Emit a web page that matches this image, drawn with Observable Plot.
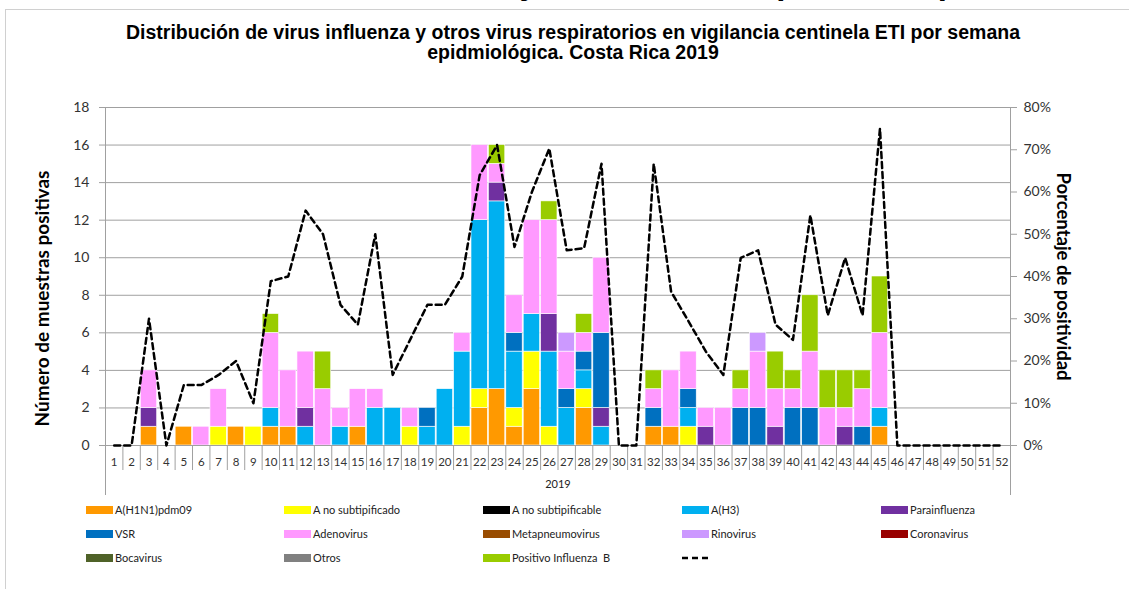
<!DOCTYPE html>
<html><head><meta charset="utf-8">
<script src="https://cdn.jsdelivr.net/npm/d3@7"></script>
<script src="https://cdn.jsdelivr.net/npm/@observablehq/plot@0.6"></script>
<style>
body{margin:0;background:#fff;width:1129px;height:589px;overflow:hidden;position:relative;font-family:Lato,"Open Sans",sans-serif}
#head{position:absolute;left:0;top:0;width:1129px;height:9px;overflow:hidden}
#head div{position:absolute;top:-36px;left:30px;font:bold 33px/38px "Liberation Sans",Arial,sans-serif;white-space:nowrap;color:#000}
#frame{position:absolute;left:5px;top:9px;width:1130px;height:590px;border:1px solid #d0d0d0;box-sizing:border-box;pointer-events:none}
#title{position:absolute;top:22px;left:0;width:1146px;text-align:center;font:bold 19.5px/20px "Liberation Sans",Arial,sans-serif;color:#000}
#chart{position:absolute;top:90px;left:0}
#legend{position:absolute;top:500px;left:0;width:1129px;height:89px}
.item{position:absolute;height:16px;font:11px/16px Lato,"Open Sans",sans-serif;color:#222;white-space:pre}
.sw{position:absolute;left:0;top:4px;width:27px;height:8px}
.lb{position:absolute;left:29px;top:0}
</style></head>
<body>
<div id="head"><div>Distribución de virus influenza y otros virus respiratorios por semana epidemiológica</div></div>
<div id="frame"></div>
<div id="title">Distribución de virus influenza y otros virus respiratorios en vigilancia centinela ETI por semana<br>epidmiológica. Costa Rica 2019</div>
<div id="chart"></div>
<div id="legend"></div>
<script>
const weeks = d3.range(1, 53);

const seriesNames = ["A(H1N1)pdm09","A no subtipificado","A no subtipificable","A(H3)","Parainfluenza","VSR","Adenovirus","Metapneumovirus","Rinovirus","Coronavirus","Bocavirus","Otros","Positivo Influenza  B"];
const seriesColors = ["#FF9900","#FFFF00","#000000","#00B0F0","#7030A0","#0070C0","#FF99FF","#994C00","#CC99FF","#990000","#4F6228","#808080","#99CC00"];

//                     weeks 1..52
const h1n1          = [0,0,1,0,1,0,0,1,0,1, 1,0,0,0,1,0,0,0,0,0, 0,2,3,1,3,0,0,2,0,0, 0,1,1,0,0,0,0,0,0,0, 0,0,0,0,1,0,0,0,0,0, 0,0];
const noSubtip      = [0,0,0,0,0,0,1,0,1,0, 0,0,0,0,0,0,0,1,0,0, 1,1,0,1,2,1,0,1,0,0, 0,0,0,1,0,0,0,0,0,0, 0,0,0,0,0,0,0,0,0,0, 0,0];
const noSubtipable  = [0,0,0,0,0,0,0,0,0,0, 0,0,0,0,0,0,0,0,0,0, 0,0,0,0,0,0,0,0,0,0, 0,0,0,0,0,0,0,0,0,0, 0,0,0,0,0,0,0,0,0,0, 0,0];
const h3            = [0,0,0,0,0,0,0,0,0,1, 0,1,0,1,0,2,2,0,1,3, 4,9,10,3,2,4,2,1,1,0, 0,0,0,1,0,0,0,0,0,0, 0,0,0,0,1,0,0,0,0,0, 0,0];
const parainfluenza = [0,0,1,0,0,0,0,0,0,0, 0,1,0,0,0,0,0,0,0,0, 0,0,1,0,0,2,0,0,1,0, 0,0,0,0,1,0,0,0,1,0, 0,0,1,0,0,0,0,0,0,0, 0,0];
const vsr           = [0,0,0,0,0,0,0,0,0,0, 0,0,0,0,0,0,0,0,1,0, 0,0,0,1,0,0,1,1,4,0, 0,1,0,1,0,0,2,2,0,2, 2,0,0,1,0,0,0,0,0,0, 0,0];
const adenovirus    = [0,0,2,0,0,1,2,0,0,4, 3,3,3,1,2,1,0,1,0,0, 1,4,1,2,5,5,2,1,4,0, 0,1,3,2,1,2,1,3,2,1, 3,2,1,2,4,0,0,0,0,0, 0,0];
const metapneumo    = [0,0,0,0,0,0,0,0,0,0, 0,0,0,0,0,0,0,0,0,0, 0,0,0,0,0,0,0,0,0,0, 0,0,0,0,0,0,0,0,0,0, 0,0,0,0,0,0,0,0,0,0, 0,0];
const rinovirus     = [0,0,0,0,0,0,0,0,0,0, 0,0,0,0,0,0,0,0,0,0, 0,0,0,0,0,0,1,0,0,0, 0,0,0,0,0,0,0,1,0,0, 0,0,0,0,0,0,0,0,0,0, 0,0];
const coronavirus   = [0,0,0,0,0,0,0,0,0,0, 0,0,0,0,0,0,0,0,0,0, 0,0,0,0,0,0,0,0,0,0, 0,0,0,0,0,0,0,0,0,0, 0,0,0,0,0,0,0,0,0,0, 0,0];
const bocavirus     = [0,0,0,0,0,0,0,0,0,0, 0,0,0,0,0,0,0,0,0,0, 0,0,0,0,0,0,0,0,0,0, 0,0,0,0,0,0,0,0,0,0, 0,0,0,0,0,0,0,0,0,0, 0,0];
const otros         = [0,0,0,0,0,0,0,0,0,0, 0,0,0,0,0,0,0,0,0,0, 0,0,0,0,0,0,0,0,0,0, 0,0,0,0,0,0,0,0,0,0, 0,0,0,0,0,0,0,0,0,0, 0,0];
const influenzaB    = [0,0,0,0,0,0,0,0,0,1, 0,0,2,0,0,0,0,0,0,0, 0,0,1,0,0,1,0,1,0,0, 0,1,0,0,0,0,1,0,2,1, 3,2,2,1,3,0,0,0,0,0, 0,0];

// Porcentaje de positividad (%)
const positividad   = [0,0,30,0,14.3,14.3,16.7,20,10,38.9, 40,55.6,50,33.3,28.6,50,16.7,25,33.3,33.3, 40,64,71.1,47,60,70.3,46.2,46.7,66.7,0, 0,66.7,36.4,29.4,22.2,16.7,44.4,46.2,28.6,25, 54.5,30.8,44.4,30.8,75,0,0,0,0,0, 0,0];

const yTicks = [0,2,4,6,8,10,12,14,16,18];
const pctTicks = [0,10,20,30,40,50,60,70,80];
const yMax = 18, pctMax = 80;

const seriesValues = [h1n1,noSubtip,noSubtipable,h3,parainfluenza,vsr,adenovirus,metapneumo,rinovirus,coronavirus,bocavirus,otros,influenzaB];
const data = seriesNames.flatMap((s, i) => weeks.map((w, j) => ({week: w, series: s, value: seriesValues[i][j]}))).filter(d => d.value > 0);

const stacked = Plot.stackY({x: "week", y: "value", z: "series", fill: "series", order: seriesNames});
delete stacked.x; delete stacked.y;

const toCount = p => p * yMax / pctMax;
const gray = "#a0a0a0";

const chart = Plot.plot({
  width: 1129, height: 410,
  marginLeft: 105, marginRight: 119, marginTop: 17, marginBottom: 55,
  style: {fontFamily: "Lato, 'Open Sans', sans-serif", color: "#333", background: "transparent", overflow: "visible"},
  x: {type: "linear", domain: [0.5, 52.5]},
  y: {domain: [0, yMax], label: null},
  color: {domain: seriesNames, range: seriesColors},
  marks: [
    Plot.gridY(yTicks.slice(1), {stroke: gray, strokeOpacity: 1}),
    Plot.rect(data, {...stacked, x1: d => d.week - 0.47, x2: d => d.week + 0.47, stroke: "white", strokeWidth: 0.6}),
    Plot.ruleY([0], {stroke: gray}),
    Plot.ruleX([0.5, 52.5], {stroke: gray}),
    Plot.axisX(d3.range(1.5, 52, 1), {tickSize: 25, tickFormat: () => "", stroke: gray, label: null}),
    Plot.axisX([0.5, 52.5], {tickSize: 50, tickFormat: () => "", stroke: gray, label: null}),
    Plot.axisX(weeks, {tickSize: 0, tickPadding: 12, fontSize: 11.5, label: null}),
    Plot.axisY(yTicks, {anchor: "left", tickSize: 6, tickPadding: 10, fontSize: 14, stroke: gray, label: null}),
    Plot.axisY(pctTicks.map(toCount), {anchor: "right", tickSize: 6, tickPadding: 7, fontSize: 14, stroke: gray, label: null, tickFormat: d => Math.round(d * pctMax / yMax) + "%"}),
    Plot.line(weeks, {x: d => d, y: (d, i) => toCount(positividad[i]), stroke: "black", strokeWidth: 2.5, strokeDasharray: "6,4"}),
    Plot.text(["2019"], {frameAnchor: "bottom", dy: 42, fontSize: 11, fill: "#222"}),
    Plot.text(["Número de muestras positivas"], {frameAnchor: "left", textAnchor: "middle", dx: -63, dy: 22, rotate: -90, fontSize: 19, fontWeight: "bold", fill: "#000"}),
    Plot.text(["Porcentaje de positividad"], {frameAnchor: "right", textAnchor: "middle", dx: 52, rotate: 90, fontSize: 18.5, fontWeight: "bold", fill: "#000"})
  ]
});
document.getElementById("chart").appendChild(chart);

// Legend
const legendCols = [86, 284, 483, 682, 881];
const legendRows = [2, 26, 50];
const legend = document.getElementById("legend");
seriesNames.forEach((s, i) => {
  const it = document.createElement("div");
  it.className = "item";
  it.style.left = legendCols[i % 5] + "px";
  it.style.top = legendRows[Math.floor(i / 5)] + "px";
  it.innerHTML = `<div class="sw" style="background:${seriesColors[i]}"></div><div class="lb"></div>`;
  it.querySelector(".lb").textContent = s;
  legend.appendChild(it);
});
const dashItem = document.createElement("div");
dashItem.className = "item";
dashItem.style.left = legendCols[3] + "px";
dashItem.style.top = legendRows[2] + "px";
dashItem.innerHTML = `<svg width="28" height="16"><line x1="0" x2="28" y1="8" y2="8" stroke="black" stroke-width="2.5" stroke-dasharray="6,4"/></svg>`;
legend.appendChild(dashItem);
</script>
</body></html>
